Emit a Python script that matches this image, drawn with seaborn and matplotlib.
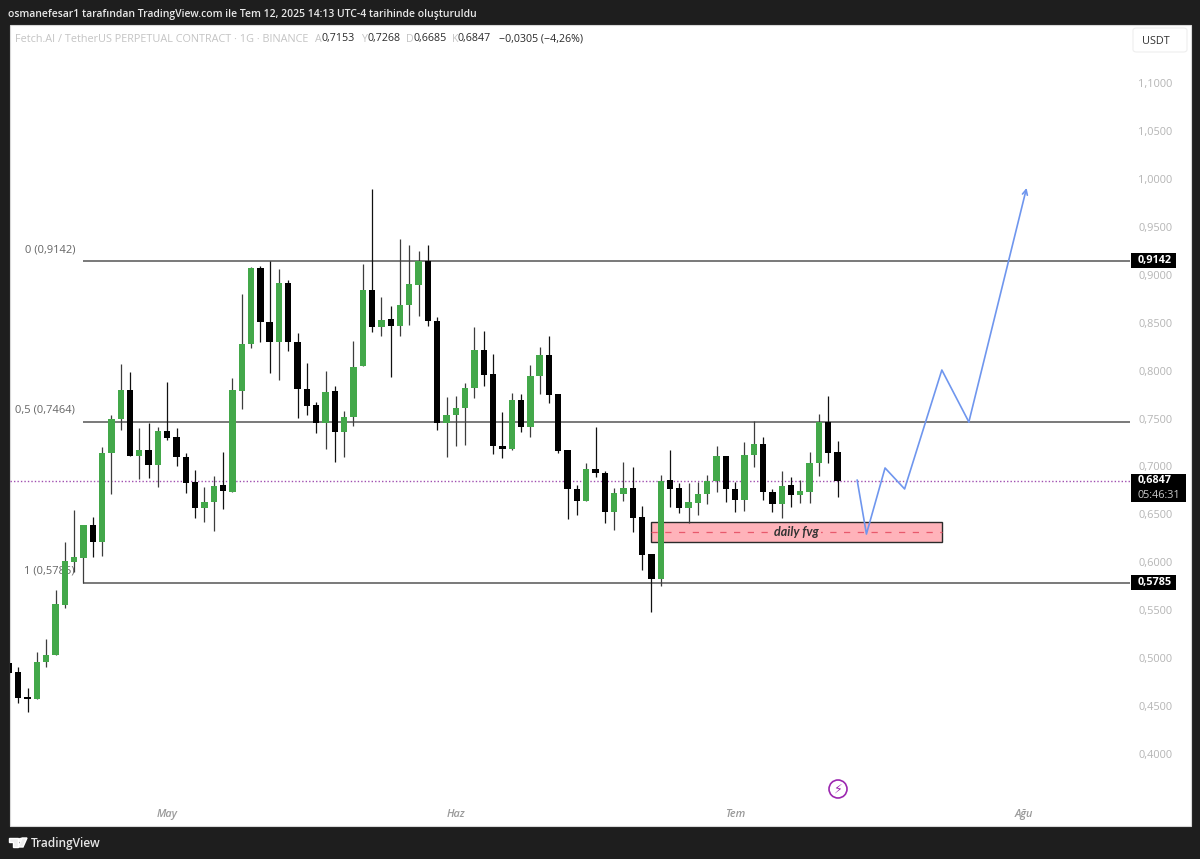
import numpy as np
import matplotlib
matplotlib.use("Agg")
import matplotlib.pyplot as plt
from matplotlib.patches import Rectangle, FancyBboxPatch, Polygon, Ellipse
import seaborn as sns

sns.set_theme(style="white")
plt.rcParams['font.family'] = ['Open Sans', 'DejaVu Sans']

opens = [.4950,.4853,.4595,.4571,.4963,.5033,.5555,.6006,.6048,.6389,
         .6215,.7137,.7498,.7794,.7112,.7168,.7015,.7370,.7304,.7102,
         .6835,.6567,.6626,.6803,.6737,.7787,.8281,.9070,.8510,.8295,
         .8917,.8301,.7811,.7638,.7450,.7784,.7356,.7519,.8048,.8841,
         .8458,.8535,.8468,.8684,.8893,.9140,.8520,.7450,.7537,.7607,
         .7815,.8215,.7964,.7216,.7182,.7696,.7415,.7944,.8166,.7756,
         .7172,.6768,.6643,.6976,.6929,.6528,.6709,.6775,.6470,.6084,
         .5826,.6862,.6775,.6567,.6622,.6716,.6845,.7112,.6765,.6650,
         .7116,.7234,.6737,.6605,.6803,.6702,.6737,.7039,.7461,.7153]
closes = [.4848,.4588,.4574,.4963,.5036,.5562,.6014,.6055,.6389,.6215,
          .7137,.7498,.7794,.7112,.7168,.7015,.7370,.7294,.7095,.6824,
          .6567,.6629,.6799,.6741,.7794,.8281,.9073,.8510,.8295,.8917,
          .8295,.7805,.7631,.7450,.7780,.7356,.7519,.8041,.8841,.8458,
          .8528,.8468,.8684,.8903,.9140,.8514,.7450,.7540,.7607,.7815,
          .8212,.7957,.7213,.7182,.7693,.7415,.7947,.8163,.7748,.7161,
          .6762,.6643,.6976,.6929,.6528,.6720,.6772,.6459,.6076,.5826,
          .6848,.6768,.6567,.6629,.6716,.6845,.7109,.6762,.6650,.7119,
          .7234,.6730,.6605,.6799,.6702,.6744,.7039,.7461,.7143,.6847]
highs = [.4953,.4911,.4689,.5067,.5200,.5711,.6215,.6546,.6389,.6469,
         .7200,.7537,.8066,.7988,.7398,.7450,.7415,.7884,.7398,.7137,
         .6963,.6789,.6900,.7151,.7926,.8796,.9084,.9091,.9142,.9060,
         .8945,.8395,.8082,.7675,.7996,.7839,.7582,.8312,.9109,.9894,
         .8765,.8674,.9373,.9310,.9251,.9310,.8562,.7728,.7735,.7874,
         .8458,.8416,.8170,.7571,.7763,.7756,.8058,.8243,.8361,.7756,
         .7172,.6806,.7033,.7408,.6956,.6772,.7043,.6997,.6590,.6084,
         .6914,.7172,.6830,.6830,.6841,.6911,.7216,.7112,.6841,.7255,
         .7477,.7304,.6762,.6956,.6893,.6859,.7148,.7544,.7735,.7268]
lows = [.4845,.4532,.4438,.4571,.4905,.5033,.5520,.5902,.5785,.6059,
        .6069,.6713,.7380,.7112,.6866,.6876,.6789,.7276,.7005,.6720,
        .6465,.6424,.6327,.6559,.6737,.7596,.8239,.8301,.7972,.7902,
        .8207,.7509,.7537,.7346,.7182,.7050,.7102,.7422,.8048,.8406,
        .8361,.7936,.8361,.8476,.8569,.8465,.7380,.7102,.7213,.7224,
        .7717,.7842,.7130,.7085,.7172,.7362,.7304,.7756,.7659,.7143,
        .6449,.6490,.6643,.6887,.6407,.6337,.6640,.6313,.5923,.5485,
        .5756,.6580,.6518,.6413,.6490,.6611,.6730,.6626,.6525,.6535,
        .6997,.6653,.6525,.6459,.6574,.6616,.6622,.6900,.7033,.6685]

fib_levels = [0.9142, 0.7464, 0.5785]
fib_names = ["0 (0,9142)", "0,5 (0,7464)", "1 (0,5785)"]
last_price = 0.6847
price_ticks = [.40,.45,.50,.55,.60,.65,.70,.75,.80,.85,.90,.95,1.00,1.05,1.10]
month_bars = [17, 48, 78, 109]
month_names = ["May", "Haz", "Tem", "Ağu"]
path_bars = [91.1, 92.1, 94.1, 96.2, 100.2, 103.1, 109.3]
path_prices = [.6859, .6295, .6984, .6765, .8006, .7464, .9905]
fvg_top, fvg_bottom = 0.6420, 0.6212
fvg_left, fvg_right = 69, 100.2

GREEN = "#43a84a"
BLUE = "#6f96ee"
W, H = 1200, 859

def px(x, y):
    return x / W, 1 - y / H

fig = plt.figure(figsize=(12, 8.59), dpi=100, facecolor="#1e1e1e")
fig.add_artist(Rectangle(px(10, 826), 1181 / W, 801 / H, transform=fig.transFigure,
                         facecolor="white", edgecolor="#d8d8d8", lw=0.8, zorder=-1))
ax = fig.add_axes([10 / W, 1 - 803 / H, 1120 / W, 778 / H], facecolor="none")

bars = np.arange(len(opens))
o, c = np.array(opens), np.array(closes)
up = c >= o

ax.vlines(bars[up], np.array(lows)[up], np.array(highs)[up], color="#3d3d3d", lw=0.9, zorder=4)
ax.vlines(bars[~up], np.array(lows)[~up], np.array(highs)[~up], color="#111111", lw=0.9, zorder=4)

sns.barplot(x=bars[up], y=(c - o)[up], bottom=o[up], native_scale=True, color=GREEN,
            saturation=1, width=0.68, errorbar=None, ax=ax, zorder=5, linewidth=0, edgecolor="none")
sns.barplot(x=bars[~up], y=(o - c)[~up], bottom=c[~up], native_scale=True, color="black",
            saturation=1, width=0.68, errorbar=None, ax=ax, zorder=5, linewidth=0, edgecolor="none")

# fib levels
ax.hlines(fib_levels, 7.9, 120.46, color="#555555", lw=1.1, zorder=3)
ax.axhline(last_price, color="#a04fb0", lw=1.0, ls=(0, (1, 1.5)), zorder=3)
for lev, name in zip(fib_levels, fib_names):
    ax.text(7.1, lev + 0.012, name, ha="right", va="center", fontsize=8, color="#666666", zorder=2)

# fvg zone
ax.add_patch(Rectangle((fvg_left, fvg_bottom), fvg_right - fvg_left, fvg_top - fvg_bottom,
                       facecolor="#ffb3ba", edgecolor="#2a2a2a", lw=1.0, zorder=3))
mid = (fvg_top + fvg_bottom) / 2
ax.plot([fvg_left, fvg_right], [mid, mid], color="#e8596c", lw=0.9, ls=(0, (5, 6)), zorder=3.5)
ax.text((fvg_left + fvg_right) / 2, mid, "daily fvg", ha="center", va="center", family="Lato",
        style="italic", weight="bold", fontsize=9, color="#333333", zorder=6,
        bbox=dict(facecolor="#ffb3ba", edgecolor="none", pad=1.5))

# projected path
sns.lineplot(x=path_bars[:-1], y=path_prices[:-1], sort=False, estimator=None,
             color=BLUE, lw=1.2, ax=ax, zorder=7)
ax.annotate("", xy=(path_bars[-1], path_prices[-1]), xytext=(path_bars[-2], path_prices[-2]),
            arrowprops=dict(arrowstyle="->", color=BLUE, lw=1.2, shrinkA=0, shrinkB=0,
                            mutation_scale=9), zorder=7)

ax.set_xlim(0.11, 120.41)
ax.set_ylim(0.3489, 1.1605)
sns.despine(ax=ax, left=True, bottom=True)
ax.yaxis.tick_right()
ax.set_yticks(price_ticks)
ax.set_yticklabels([f"{t:.4f}".replace(".", ",") for t in price_ticks], fontsize=7.9, color="#b5b5b5")
ax.tick_params(axis="y", length=0, pad=6)
ax.set_xticks(month_bars)
ax.set_xticklabels(month_names, fontsize=7.8, color="#9a9a9a", style="italic", weight="semibold")
ax.tick_params(axis="x", length=0, pad=4)
ax.set_xlabel("")
ax.set_ylabel("")

# price tags on the scale
def tag(y0, y1, x1, lines):
    fig.add_artist(Rectangle(px(1131, y1), (x1 - 1131) / W, (y1 - y0) / H, transform=fig.transFigure,
                             facecolor="black", edgecolor="none", zorder=10))
    for txt, y, col, wt in lines:
        fig.text(*px(1138, y), txt, color=col, fontsize=7.8, weight=wt, va="center", zorder=11)

tag(253, 268, 1176, [("0,9142", 260.5, "white", "bold")])
tag(575, 590, 1176, [("0,5785", 582.5, "white", "bold")])
tag(474, 502, 1186, [("0,6847", 481, "white", "bold"), ("05:46:31", 495, "#c8c8c8", "normal")])

# header
fig.text(*px(8, 14), "osmanefesar1 tarafından TradingView.com ile Tem 12, 2025 14:13 UTC-4 tarihinde oluşturuldu",
         color="#e8e8e8", fontsize=7.45, va="center", weight="semibold")
fig.text(*px(15, 39), "Fetch.AI / TetherUS PERPETUAL CONTRACT · 1G · BINANCE", color="#c4c4c4", fontsize=7.8, va="center")
for x_l, lab, x_v, val in [(315, "A", 321, "0,7153"), (361, "Y", 367, "0,7268"),
                           (406, "D", 413, "0,6685"), (452, "K", 458, "0,6847")]:
    fig.text(*px(x_l, 39), lab, color="#c4c4c4", fontsize=7.7, va="center")
    fig.text(*px(x_v, 39), val, color="#2a2a2a", fontsize=7.7, va="center")
fig.text(*px(499, 39), "−0,0305 (−4,26%)", color="#2a2a2a", fontsize=7.7, va="center")

# USDT button
fig.add_artist(FancyBboxPatch(px(1133, 52), 54 / W, 24 / H, boxstyle="round,pad=0,rounding_size=0.003",
                              transform=fig.transFigure, facecolor="white", edgecolor="#eeeeee", lw=0.8))
fig.text(*px(1142, 41), "USDT", color="#333333", fontsize=7.8, ha="left", va="center")

# lightning badge
fig.add_artist(Ellipse(px(838, 789), 18 / W, 18 / H, transform=fig.transFigure, facecolor="white",
                       edgecolor="#9c27b0", lw=1.2))
fig.text(*px(838, 789), "⚡", color="#9c27b0", fontsize=9, ha="center", va="center", family="DejaVu Sans")

# footer logo
fig.add_artist(Polygon([px(9, 838), px(18, 838), px(18, 847), px(13, 847), px(13, 841.5), px(9, 841.5)],
                       transform=fig.transFigure, facecolor="#eeeeee"))
fig.add_artist(Ellipse(px(20.5, 840), 3 / W, 3 / H, transform=fig.transFigure, facecolor="#eeeeee"))
fig.add_artist(Polygon([px(22, 838), px(27, 838), px(23, 847), px(18.5, 847)], transform=fig.transFigure, facecolor="#eeeeee"))
fig.text(*px(31, 843), "TradingView", color="#e6e6e6", fontsize=8.6, va="center", weight="semibold")

fig.savefig("out.png", dpi=100, facecolor=fig.get_facecolor())
